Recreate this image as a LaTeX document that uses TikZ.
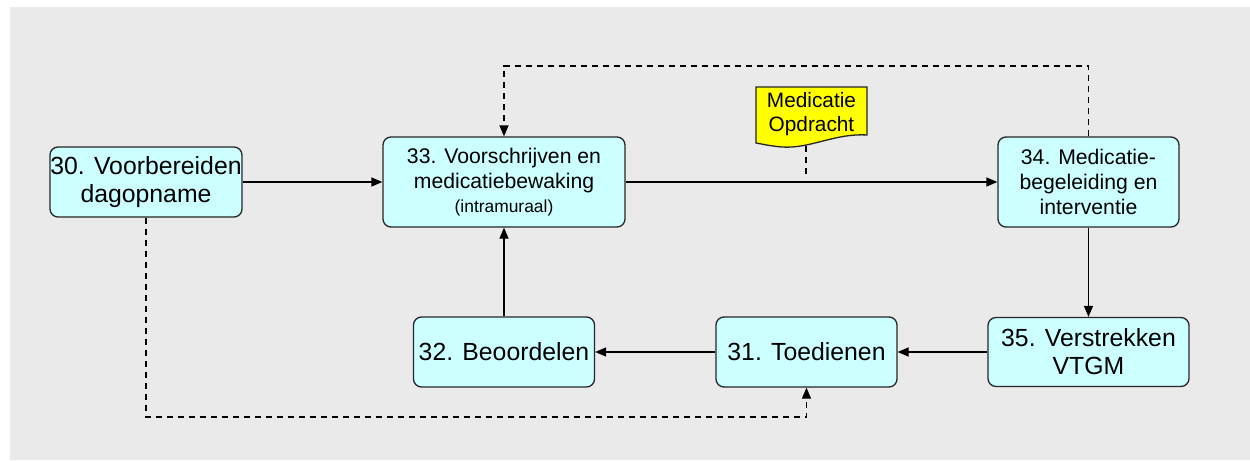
\documentclass[tikz,border=0pt]{standalone}
\usepackage{fontspec}
\setmainfont{Liberation Sans}
\usetikzlibrary{arrows.meta}
\definecolor{bg}{HTML}{EAEAEA}
\definecolor{boxfill}{HTML}{CCFFFF}
\definecolor{docfill}{HTML}{FFFF00}
\begin{document}
\begin{tikzpicture}[x=0.5pt,y=-0.5pt,
 proc/.style={draw=black!85, fill=boxfill, rounded corners=4pt, line width=0.65pt, inner sep=0pt, align=center},
 big/.style={font=\fontsize{12.4}{14}\selectfont},
 mid/.style={font=\fontsize{10.6}{12.6}\selectfont},
 flow/.style={line width=0.65pt, -{Triangle[length=5.5pt,width=4.5pt]}},
 dflow/.style={flow, dash pattern=on 3pt off 2.5pt},
 dline/.style={line width=0.65pt, dash pattern=on 3pt off 2.5pt},
 ]
\useasboundingbox (0,0) rectangle (1250,461);
\fill[bg] (10,7) rectangle (1250,460);

\node[proc,big,minimum width=96pt,minimum height=35pt] (n30) at (146,182) {30. Voorbereiden\\dagopname};
\node[proc,mid,minimum width=121pt,minimum height=45pt] (n33) at (504,182) {33. Voorschrijven en\\medicatiebewaking\\[-0.5pt]{\fontsize{8.7}{10}\selectfont (intramuraal)}};
\node[proc,mid,minimum width=90.5pt,minimum height=45pt] (n34) at (1088.5,182) {34. Medicatie-\\begeleiding en\\interventie};
\node[proc,big,minimum width=100.5pt,minimum height=34.5pt] (n35) at (1088.5,352) {35. Verstrekken\\VTGM};
\node[proc,big,minimum width=90.5pt,minimum height=35pt] (n31) at (806.5,352) {31. Toedienen};
\node[proc,big,minimum width=90.5pt,minimum height=35pt] (n32) at (504,352) {32. Beoordelen};

% document shape
\draw[fill=docfill, draw=black!85, line width=0.65pt]
  (756,87) -- (867,87) -- (867,135)
  .. controls (835,133) and (810,149) .. (782,147)
  .. controls (770,146) and (762,144) .. (756,143) -- cycle;
\node[font=\fontsize{10.4}{12}\selectfont, align=center, inner sep=0pt] (doc) at (811.5,114) {Medicatie\\Opdracht};
\coordinate (docb) at (806,146);
\coordinate (docl) at (806,178);

\coordinate (topl) at (504,66);
\coordinate (botr) at (806.5,417);

\draw[flow] (n30.east) -- (n33.west);
\draw[flow] (n33.east) -- (n34.west);
\draw[flow] (n34.south) -- (n35.north);
\draw[flow] (n35.west) -- (n31.east);
\draw[flow] (n31.west) -- (n32.east);
\draw[flow] (n32.north) -- (n33.south);
\draw[dflow] (n34.north) |- (topl) -- (n33.north);
\draw[dflow] (n30.south) |- (botr) -- (n31.south);
\draw[dline] (docb) -- (docl);
\end{tikzpicture}
\end{document}
